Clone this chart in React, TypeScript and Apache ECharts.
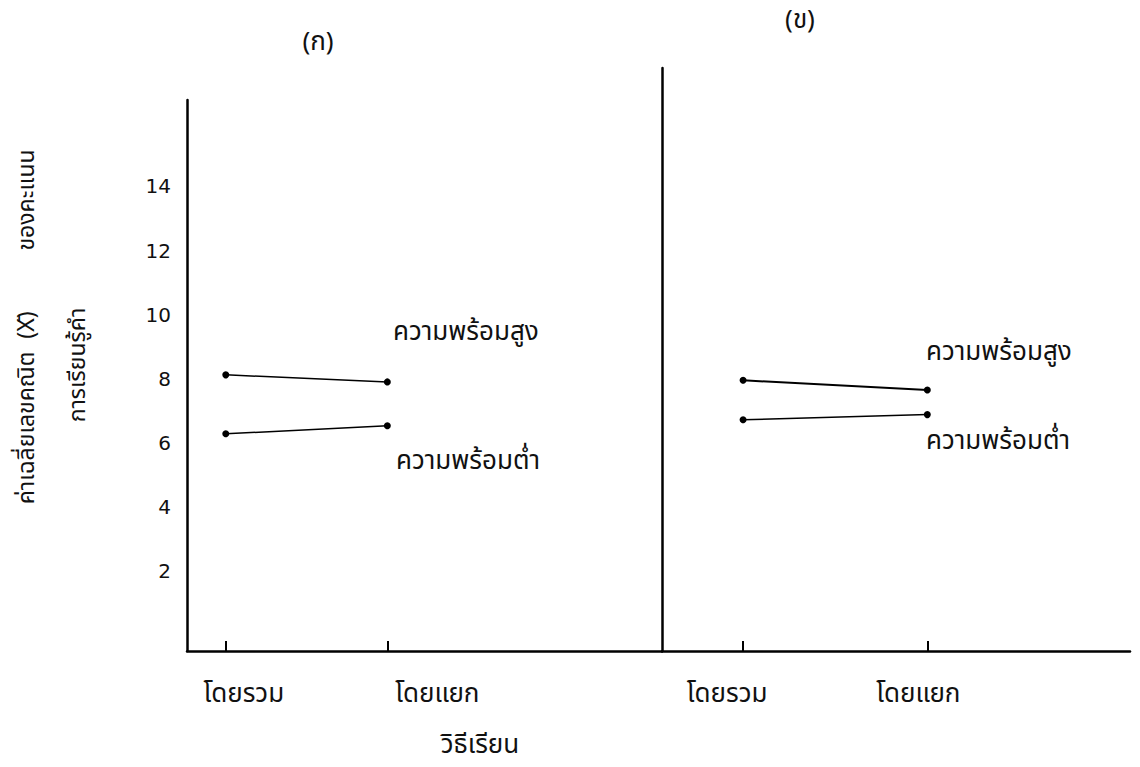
import React, { useEffect, useRef } from "react";
import * as echarts from "echarts";

// ---- data ----
const methods = ["โดยรวม", "โดยแยก"];
const methodPos = [1, 2];
const yTicks = [2, 4, 6, 8, 10, 12, 14];
const panelTitles = ["(ก)", "(ข)"];
const groupNames = ["ความพร้อมสูง", "ความพร้อมต่ำ"];
const panelAHigh = [8.12, 7.9];
const panelALow = [6.28, 6.53];
const panelBHigh = [7.95, 7.65];
const panelBLow = [6.72, 6.88];
const xAxisTitle = "วิธีเรียน";
const yTitleParts = ["ค่าเฉลี่ยเลขคณิต", "(X\u0304)", "ของคะแนน"];
const yTitleLine2 = "การเรียนรู้คำ";

const FONT = "'Noto Sans Thai', 'Noto Sans', 'DejaVu Sans', sans-serif";

function pairs(vals: number[]) {
  return methodPos.map((p, i) => [p, vals[i]]);
}

function pad(shift: number) {
  return shift >= 0 ? [0, 0, 0, shift * 2] : [0, -shift * 2, 0, 0];
}

export default function App() {
  const ref = useRef<HTMLDivElement>(null);
  useEffect(() => {
    const chart = echarts.init(ref.current!, null, { renderer: "svg" });
    const lineSeries = (vals: number[], xi: number, width: number) => ({
      type: "line",
      xAxisIndex: xi,
      yAxisIndex: xi,
      data: pairs(vals),
      symbol: "circle",
      symbolSize: 7,
      lineStyle: { color: "#000", width },
      itemStyle: { color: "#000" },
      silent: true,
    });
    const xAxisBase = (gi: number, min: number, max: number, shifts: number[]) => ({
      type: "value",
      gridIndex: gi,
      min,
      max,
      axisLine: { show: true, onZero: false, lineStyle: { color: "#000", width: 2.5 } },
      axisTick: { show: true, inside: true, length: 10, customValues: methodPos, lineStyle: { color: "#000", width: 2 } },
      splitLine: { show: false },
      axisLabel: {
        customValues: methodPos,
        margin: 30,
        color: "#111",
        fontFamily: FONT,
        fontSize: 26,
        formatter: (v: number) => {
          const i = Math.round(v) - 1;
          return `{s${i}|${methods[i]}}`;
        },
        rich: {
          s0: { fontFamily: FONT, fontSize: 26, color: "#111", padding: pad(shifts[0]) },
          s1: { fontFamily: FONT, fontSize: 26, color: "#111", padding: pad(shifts[1]) },
        },
      },
    });
    const textEl = (text: string, x: number, y: number, size: number, extra: any = {}) => ({
      type: "text",
      x,
      y,
      rotation: extra.rotation || 0,
      style: {
        text,
        fill: "#111",
        font: `${size}px ${FONT}`,
        textAlign: extra.align || "left",
        textVerticalAlign: "middle",
      },
    });
    chart.setOption({
      animation: false,
      backgroundColor: "#fff",
      grid: [
        { left: 187, right: 1140 - 662, top: 100, bottom: 116 },
        { left: 662, right: 10, top: 68, bottom: 116 },
      ],
      xAxis: [xAxisBase(0, 0.76, 3.7, [18, 50]), xAxisBase(1, 0.56, 3.1, [-16, -9])],
      yAxis: [
        {
          type: "value",
          gridIndex: 0,
          min: -0.5,
          max: 16.7,
          axisLine: { show: true, onZero: false, lineStyle: { color: "#000", width: 2.5 } },
          axisTick: { show: false },
          splitLine: { show: false },
          axisLabel: { customValues: yTicks, margin: 16, color: "#111", fontSize: 20, fontFamily: "'DejaVu Sans', sans-serif" },
        },
        {
          type: "value",
          gridIndex: 1,
          min: -0.5,
          max: 17.7,
          axisLine: { show: true, onZero: false, lineStyle: { color: "#000", width: 2.5 } },
          axisTick: { show: false },
          splitLine: { show: false },
          axisLabel: { show: false },
        },
      ],
      series: [
        lineSeries(panelAHigh, 0, 1.5),
        lineSeries(panelALow, 0, 1.5),
        lineSeries(panelBHigh, 1, 2),
        lineSeries(panelBLow, 1, 1.5),
      ],
      graphic: [
        textEl(panelTitles[0], 318, 42, 26, { align: "center" }),
        textEl(panelTitles[1], 800, 20, 26, { align: "center" }),
        textEl(groupNames[0], 393, 332, 26),
        textEl(groupNames[1], 396, 461, 26),
        textEl(groupNames[0], 926, 352, 26),
        textEl(groupNames[1], 926, 441, 26),
        textEl(xAxisTitle, 480, 745, 26, { align: "center" }),
        textEl(yTitleParts[0], 27, 428, 23, { align: "center", rotation: Math.PI / 2 }),
        textEl(yTitleParts[1], 27, 325, 23, { align: "center", rotation: Math.PI / 2 }),
        textEl(yTitleParts[2], 27, 200, 23, { align: "center", rotation: Math.PI / 2 }),
        textEl(yTitleLine2, 78, 365, 23, { align: "center", rotation: Math.PI / 2 }),
      ],
    });
    return () => chart.dispose();
  }, []);
  return (
    <div
      ref={ref}
      style={{ position: "fixed", left: 0, top: 0, width: 1140, height: 767, background: "#fff" }}
    />
  );
}
